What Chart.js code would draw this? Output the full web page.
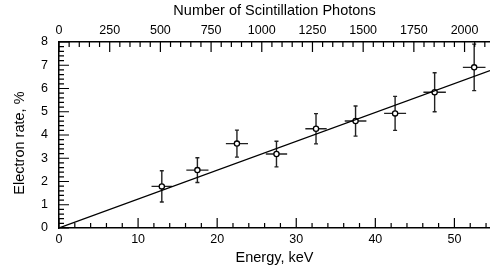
<!DOCTYPE html>
<html>
<head>
<meta charset="utf-8">
<script src="https://cdn.jsdelivr.net/npm/chart.js@4/dist/chart.umd.min.js"></script>
<style>
  html, body { margin: 0; padding: 0; background: #fff; }
  canvas { display: block; }
</style>
</head>
<body>
<canvas id="MyChart" width="490" height="267"></canvas>
<script>
// measured points (energy in keV, electron rate in %)
const energyKeV    = [13, 17.5, 22.5, 27.5, 32.5, 37.5, 42.5, 47.5, 52.5];
const electronRate = [1.79, 2.49, 3.63, 3.18, 4.27, 4.60, 4.93, 5.84, 6.91];
const rateError    = [0.67, 0.53, 0.58, 0.55, 0.65, 0.65, 0.73, 0.84, 1.00];
const energyError  = [1.30, 1.40, 1.40, 1.35, 1.35, 1.37, 1.39, 1.42, 1.43];

// straight fit through the origin
const fitEnergy = [0, 54.5];
const fitRate   = [0, 6.77];

// axes
const energyTicks = [0, 10, 20, 30, 40, 50];
const photonTicks = [0, 250, 500, 750, 1000, 1250, 1500, 1750, 2000];
const rateTicks   = [0, 1, 2, 3, 4, 5, 6, 7, 8];
const ENERGY_MAX = 54.5;
const PHOTONS_PER_KEV = 39.0;

const FONT = "'Liberation Sans', Arial, Helvetica, sans-serif";

const onlyListed = (list) => (v) => list.includes(v) ? String(v) : '';

// fixed box sizes, no extra padding for edge labels
const fixBox = (size) => (s) => {
    if (s.isHorizontal()) s.height = size; else s.width = size;
    s.paddingLeft = 0; s.paddingRight = 0;
    s.paddingTop = 0; s.paddingBottom = 0;
};

// inward ticks with minor marks, drawn from the scales themselves
const tickMarks = {
    id: 'tickMarks',
    afterDraw(chart) {
        const { ctx, chartArea: a, scales } = chart;
        ctx.save();
        ctx.strokeStyle = '#000';
        ctx.lineWidth = 1.2;
        const run = (scale, step, every, fn) => {
            const n = Math.floor((scale.max - scale.min) / step + 1e-6);
            for (let i = 0; i <= n; i++) {
                const v = scale.min + i * step;
                fn(scale.getPixelForValue(v), i % every === 0 ? 10 : 5);
            }
        };
        ctx.beginPath();
        run(scales.x, 2, 5, (p, len) => { ctx.moveTo(p, a.bottom); ctx.lineTo(p, a.bottom - len); });
        run(scales.x2, 50, 5, (p, len) => { ctx.moveTo(p, a.top); ctx.lineTo(p, a.top + len); });
        run(scales.y, 0.2, 5, (p, len) => { ctx.moveTo(a.left, p); ctx.lineTo(a.left + len, p); });
        ctx.stroke();
        ctx.restore();
    }
};

const errorBars = {
    id: 'errorBars',
    beforeDatasetsDraw(chart) {
        const { ctx, scales: { x, y } } = chart;
        ctx.save();
        ctx.strokeStyle = '#222';
        ctx.lineWidth = 1.4;
        ctx.beginPath();
        energyKeV.forEach((e, i) => {
            const cx = x.getPixelForValue(e);
            const cy = y.getPixelForValue(electronRate[i]);
            const y0 = y.getPixelForValue(electronRate[i] - rateError[i]);
            const y1 = y.getPixelForValue(electronRate[i] + rateError[i]);
            const x0 = x.getPixelForValue(e - energyError[i]);
            const x1 = x.getPixelForValue(e + energyError[i]);
            ctx.moveTo(cx, y0); ctx.lineTo(cx, y1);
            ctx.moveTo(cx - 2, y0); ctx.lineTo(cx + 2, y0);
            ctx.moveTo(cx - 2, y1); ctx.lineTo(cx + 2, y1);
            ctx.moveTo(x0, cy); ctx.lineTo(x1, cy);
        });
        ctx.stroke();
        ctx.restore();
    }
};

const points = energyKeV.map((e, i) => ({ x: e, y: electronRate[i] }));
const fit = fitEnergy.map((e, i) => ({ x: e, y: fitRate[i] }));

new Chart(document.getElementById('MyChart'), {
    type: 'scatter',
    data: {
        datasets: [
            {
                data: fit,
                showLine: true,
                borderColor: '#000',
                borderWidth: 1.2,
                pointRadius: 0
            },
            {
                data: points,
                pointRadius: 2.6,
                pointBorderWidth: 1.3,
                pointBackgroundColor: '#fff',
                pointBorderColor: '#000'
            }
        ]
    },
    options: {
        responsive: false,
        animation: false,
        devicePixelRatio: 1,
        layout: { padding: 0, autoPadding: false },
        plugins: { legend: { display: false }, tooltip: { enabled: false } },
        scales: {
            x: {
                type: 'linear',
                position: 'bottom',
                min: 0,
                max: ENERGY_MAX,
                afterFit: fixBox(39),
                grid: { display: false, drawTicks: false },
                border: { display: true, color: '#000', width: 1.5 },
                ticks: {
                    stepSize: 10,
                    includeBounds: false,
                    autoSkip: false,
                    maxRotation: 0,
                    padding: 4.5,
                    color: '#000',
                    font: { family: FONT, size: 12.5 },
                    callback: onlyListed(energyTicks)
                },
                title: {
                    display: true,
                    text: 'Energy, keV',
                    color: '#000',
                    padding: { top: 0, bottom: 0 },
                    font: { family: FONT, size: 14.5 }
                }
            },
            x2: {
                type: 'linear',
                position: 'top',
                min: 0,
                max: ENERGY_MAX * PHOTONS_PER_KEV,
                afterFit: fixBox(42),
                grid: { display: false, drawTicks: false },
                border: { display: true, color: '#000', width: 1.5 },
                ticks: {
                    stepSize: 250,
                    includeBounds: false,
                    autoSkip: false,
                    maxRotation: 0,
                    padding: 3.5,
                    color: '#000',
                    font: { family: FONT, size: 12.5 },
                    callback: onlyListed(photonTicks)
                },
                title: {
                    display: true,
                    text: 'Number of Scintillation Photons',
                    color: '#000',
                    padding: { top: 2.3, bottom: 0 },
                    font: { family: FONT, size: 14.5 }
                }
            },
            y: {
                type: 'linear',
                min: 0,
                max: 8,
                afterFit: fixBox(59),
                grid: { display: false, drawTicks: false },
                border: { display: true, color: '#000', width: 1.5 },
                ticks: {
                    stepSize: 1,
                    autoSkip: false,
                    padding: 11,
                    color: '#000',
                    font: { family: FONT, size: 12.5 },
                    callback: onlyListed(rateTicks)
                },
                title: {
                    display: true,
                    text: 'Electron rate, %    ',
                    color: '#000',
                    padding: { top: 11, bottom: 0 },
                    font: { family: FONT, size: 14.5 }
                }
            }
        }
    },
    plugins: [errorBars, tickMarks]
});
</script>
</body>
</html>
